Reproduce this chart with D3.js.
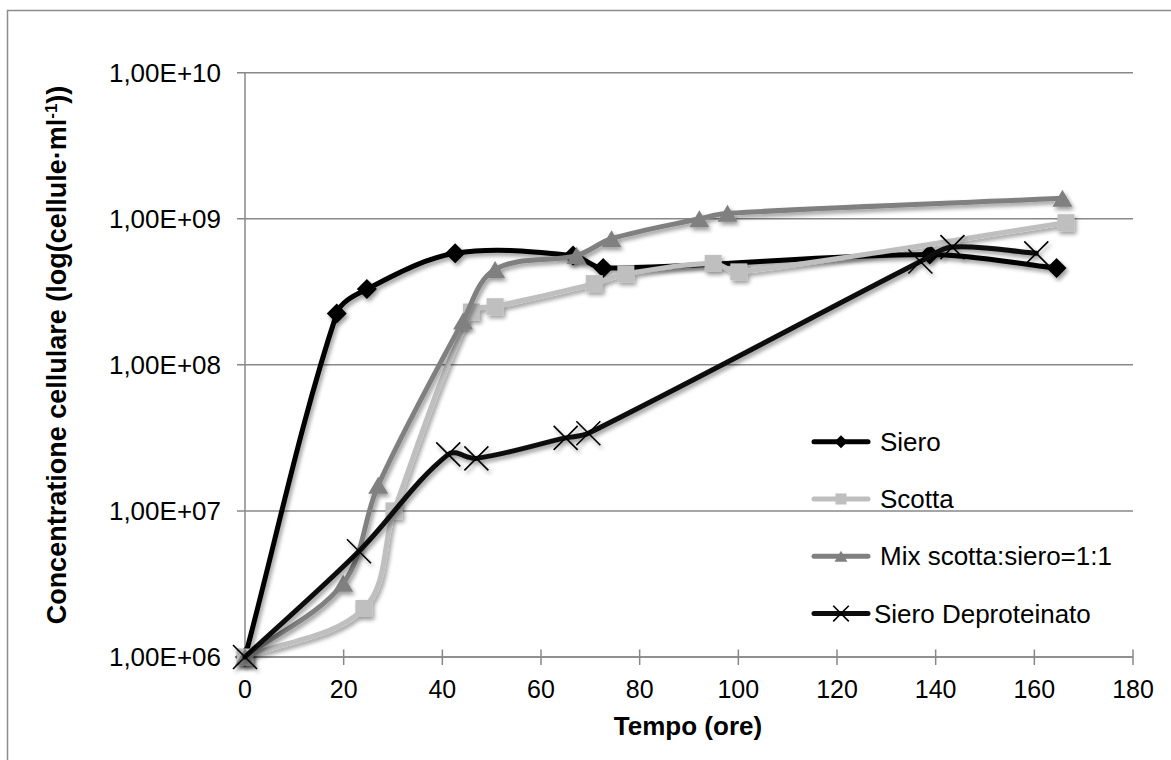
<!DOCTYPE html>
<html>
<head>
<meta charset="utf-8">
<script src="https://cdn.jsdelivr.net/npm/d3@7/dist/d3.min.js"></script>
<style>
  html, body { margin: 0; padding: 0; background: #fff; }
  svg { display: block; font-family: "Liberation Sans", Arial, sans-serif; }
</style>
</head>
<body>
<svg id="chart" width="1171" height="760"></svg>
<script>
// Growth curves: time in hours, cell concentration (cells/ml, log scale)
const sieroX   = [0, 18.6, 24.7, 42.6, 66.5, 72.6, 138.8, 164.5];
const sieroY   = [1e6, 2.25e8, 3.3e8, 5.8e8, 5.6e8, 4.6e8, 5.7e8, 4.6e8];

const scottaX  = [0, 24.1, 30.2, 45.9, 50.7, 70.8, 77.2, 94.9, 100.1, 166.4];
const scottaY  = [1e6, 2.15e6, 1.0e7, 2.3e8, 2.5e8, 3.6e8, 4.2e8, 4.95e8, 4.33e8, 9.4e8];

const mixX     = [0, 19.9, 27.0, 44.2, 50.7, 67.2, 74.3, 92.1, 97.8, 165.7];
const mixY     = [1e6, 3.2e6, 1.5e7, 2.0e8, 4.5e8, 5.6e8, 7.3e8, 1.0e9, 1.09e9, 1.38e9];

const deprotX  = [0, 23.1, 41.2, 46.9, 65.0, 69.6, 136.9, 143.4, 160.4];
const deprotY  = [1e6, 5.3e6, 2.44e7, 2.29e7, 3.16e7, 3.4e7, 5.1e8, 6.4e8, 5.8e8];

const seriesNames = ["Siero", "Scotta", "Mix scotta:siero=1:1", "Siero Deproteinato"];
const xTicks = [0, 20, 40, 60, 80, 100, 120, 140, 160, 180];
const yTicks = [1e6, 1e7, 1e8, 1e9, 1e10];
const yTickLabels = ["1,00E+06", "1,00E+07", "1,00E+08", "1,00E+09", "1,00E+10"];

const series = [
  { name: seriesNames[0], xs: sieroX,  ys: sieroY,  color: "#000000", marker: "diamond" },
  { name: seriesNames[1], xs: scottaX, ys: scottaY, color: "#bfbfbf", marker: "square" },
  { name: seriesNames[2], xs: mixX,    ys: mixY,    color: "#808080", marker: "triangle" },
  { name: seriesNames[3], xs: deprotX, ys: deprotY, color: "#0d0d0d", marker: "cross" }
];

const svg = d3.select("#chart");
const gridColor = "#888888";

// outer chart frame
svg.append("rect")
  .attr("x", 7.5).attr("y", 10.5)
  .attr("width", 1200).attr("height", 800)
  .attr("fill", "none").attr("stroke", "#8c8c8c").attr("stroke-width", 1.5);

// soft drop shadow for lines and markers
const defs = svg.append("defs");
const f = defs.append("filter").attr("id", "shadow")
  .attr("x", "-20%").attr("y", "-20%").attr("width", "140%").attr("height", "140%");
f.append("feGaussianBlur").attr("in", "SourceAlpha").attr("stdDeviation", 2).attr("result", "b");
f.append("feOffset").attr("in", "b").attr("dx", 2).attr("dy", 3).attr("result", "o");
f.append("feComponentTransfer").attr("in", "o").attr("result", "s")
  .append("feFuncA").attr("type", "linear").attr("slope", 0.4);
const fm = f.append("feMerge");
fm.append("feMergeNode").attr("in", "s");
fm.append("feMergeNode").attr("in", "SourceGraphic");

const x = d3.scaleLinear().domain([0, 180]).range([245, 1133]);
const y = d3.scaleLog().domain([1e6, 1e10]).range([657, 72.7]);

// horizontal gridlines
svg.append("g").selectAll("line").data(yTicks).join("line")
  .attr("x1", 237).attr("x2", x(180))
  .attr("y1", d => y(d)).attr("y2", d => y(d))
  .attr("stroke", gridColor).attr("stroke-width", 1.5);

// y axis line
svg.append("line")
  .attr("x1", x(0)).attr("x2", x(0))
  .attr("y1", y(1e10)).attr("y2", y(1e6))
  .attr("stroke", gridColor).attr("stroke-width", 1.5);

// x axis line + ticks
svg.append("line")
  .attr("x1", x(0)).attr("x2", x(180))
  .attr("y1", y(1e6)).attr("y2", y(1e6))
  .attr("stroke", gridColor).attr("stroke-width", 1.5);
svg.append("g").selectAll("line").data(xTicks.slice(1)).join("line")
  .attr("x1", d => x(d)).attr("x2", d => x(d))
  .attr("y1", y(1e6) - 7.5).attr("y2", y(1e6) + 8)
  .attr("stroke", gridColor).attr("stroke-width", 1.5);

// tick labels
svg.append("g").selectAll("text").data(yTicks).join("text")
  .attr("x", 221).attr("y", d => y(d) + 9)
  .attr("text-anchor", "end").attr("font-size", 26).attr("fill", "#000")
  .text((d, i) => yTickLabels[i]);
svg.append("g").selectAll("text").data(xTicks).join("text")
  .attr("x", d => x(d)).attr("y", 698)
  .attr("text-anchor", "middle").attr("font-size", 25).attr("fill", "#000")
  .text(d => d);

// axis titles
svg.append("text")
  .attr("x", (x(0) + x(180)) / 2 - 1).attr("y", 735)
  .attr("text-anchor", "middle").attr("font-size", 26).attr("font-weight", "bold")
  .text("Tempo (ore)");

const yt = svg.append("text")
  .attr("transform", "translate(66,355) rotate(-90)")
  .attr("text-anchor", "middle").attr("font-size", 27).attr("font-weight", "bold");
yt.append("tspan").text("Concentratione cellulare (log(cellule·ml");
yt.append("tspan").attr("dy", -9).attr("font-size", 17).text("-1");
yt.append("tspan").attr("dy", 9).text("))");

// marker shapes
function drawMarker(g, type, cx, cy, color, s) {
  if (type === "diamond") {
    g.append("path")
      .attr("d", `M${cx},${cy - s}L${cx + s},${cy}L${cx},${cy + s}L${cx - s},${cy}Z`)
      .attr("fill", color);
  } else if (type === "square") {
    g.append("rect")
      .attr("x", cx - s * 0.85).attr("y", cy - s * 0.85)
      .attr("width", s * 1.7).attr("height", s * 1.7)
      .attr("fill", color);
  } else if (type === "triangle") {
    const h = s * 1.7, w = s * 2;
    g.append("path")
      .attr("d", `M${cx},${cy - h / 2}L${cx + w / 2},${cy + h / 2}L${cx - w / 2},${cy + h / 2}Z`)
      .attr("fill", color);
  } else {
    const r = s * 1.2;
    g.append("path")
      .attr("d", `M${cx - r},${cy - r}L${cx + r},${cy + r}M${cx - r},${cy + r}L${cx + r},${cy - r}`)
      .attr("stroke", "#000").attr("stroke-width", 1.6).attr("fill", "none");
  }
}

// Smoothed line: cubic Bezier segments whose tangent at each point follows the
// neighbouring points, with handle length scaled to the segment's own length
// (keeps long straight runs straight and avoids overshoot on short ones).
function smoothPath(pts) {
  const p = d3.path();
  const n = pts.length;
  const unit = (a, b) => {
    const dx = b[0] - a[0], dy = b[1] - a[1];
    const l = Math.hypot(dx, dy) || 1;
    return [dx / l, dy / l];
  };
  const tang = pts.map((pt, i) => {
    const a = pts[Math.max(0, i - 1)], b = pts[Math.min(n - 1, i + 1)];
    return unit(a, b);
  });
  const k = 1 / 3;
  p.moveTo(pts[0][0], pts[0][1]);
  for (let i = 0; i < n - 1; i++) {
    const a = pts[i], b = pts[i + 1];
    const d = Math.hypot(b[0] - a[0], b[1] - a[1]) * k;
    p.bezierCurveTo(
      a[0] + tang[i][0] * d, a[1] + tang[i][1] * d,
      b[0] - tang[i + 1][0] * d, b[1] - tang[i + 1][1] * d,
      b[0], b[1]);
  }
  return p.toString();
}

series.forEach(s => {
  const pts = s.xs.map((v, i) => [x(v), y(s.ys[i])]);
  const g = svg.append("g").attr("filter", "url(#shadow)");
  g.append("path")
    .attr("d", smoothPath(pts))
    .attr("fill", "none").attr("stroke", s.color)
    .attr("stroke-width", 5).attr("stroke-linejoin", "round").attr("stroke-linecap", "round");
  pts.forEach(p => drawMarker(g, s.marker, p[0], p[1], s.color, 10));
});

// legend
const legendRows = [441.7, 499, 556.3, 613.6];
series.forEach((s, i) => {
  const cy = legendRows[i];
  const g = svg.append("g");
  g.append("line").attr("x1", 814).attr("x2", 868).attr("y1", cy).attr("y2", cy)
    .attr("stroke", s.color).attr("stroke-width", 5).attr("stroke-linecap", "round");
  drawMarker(g, s.marker, 841, cy, s.color, 6.5);
  g.append("text")
    .attr("x", i === 3 ? 874 : 880).attr("y", cy + 9)
    .attr("font-size", 26).attr("fill", "#000")
    .text(s.name);
});
</script>
</body>
</html>
